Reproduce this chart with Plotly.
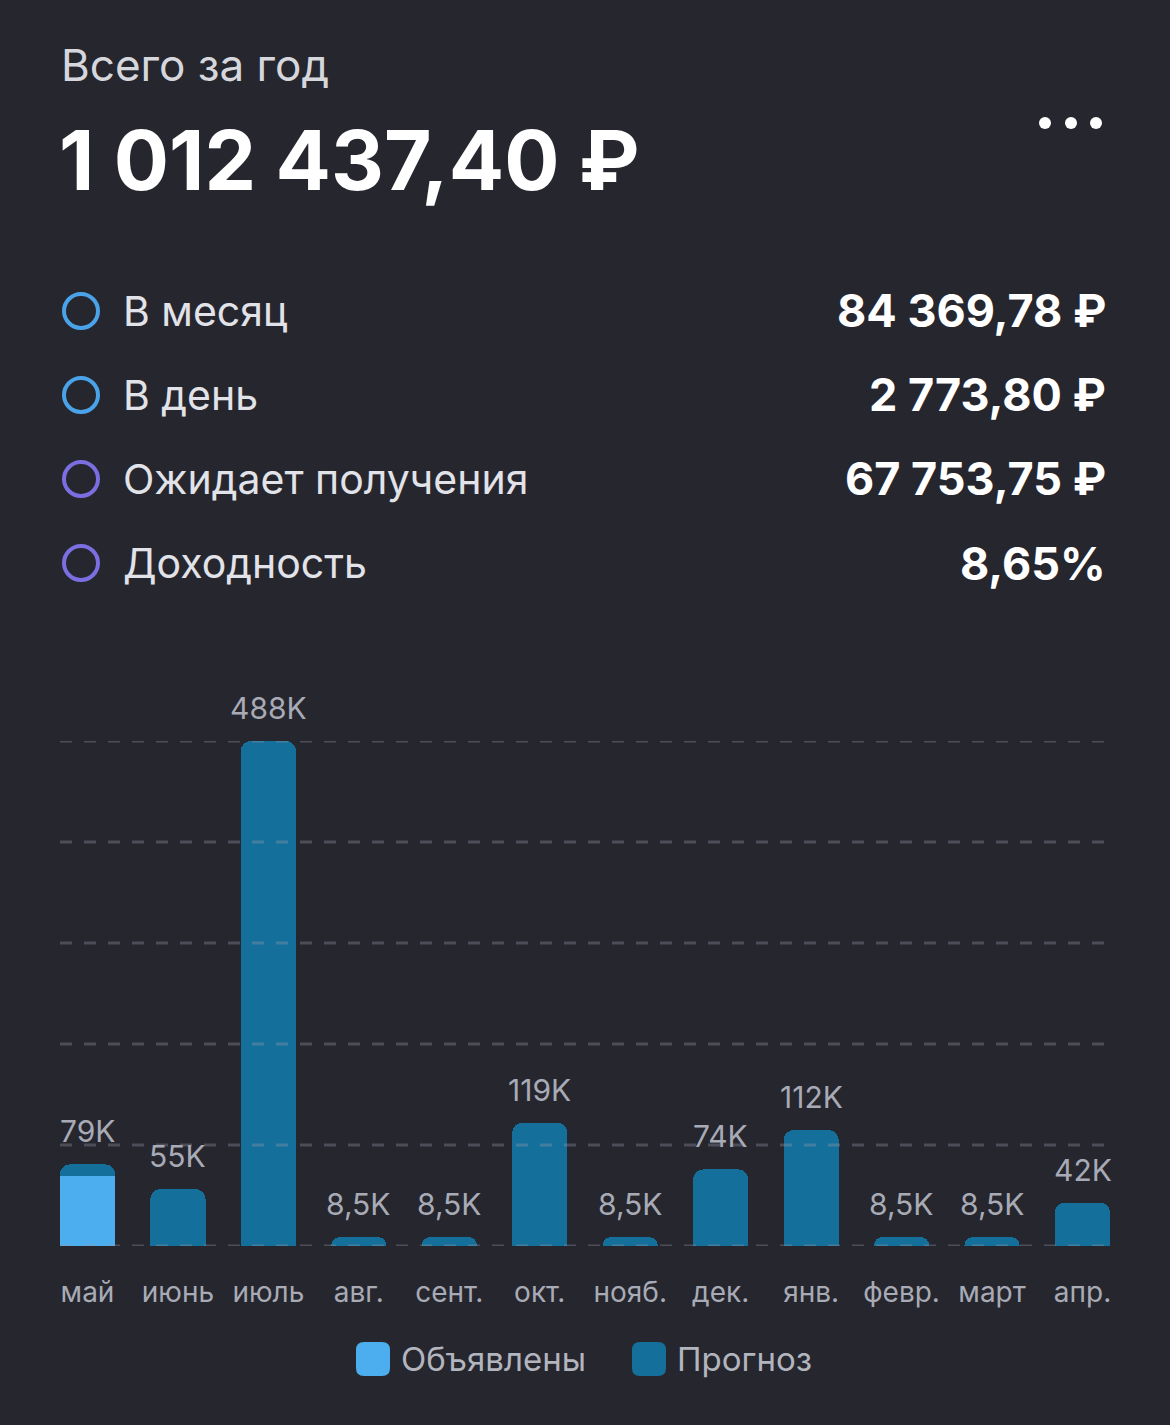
import plotly.graph_objects as go

# ---------------- data ----------------
months = ["май", "июнь", "июль", "авг.", "сент.", "окт.", "нояб.", "дек.", "янв.", "февр.", "март", "апр."]
declared = [67.75, 0, 0, 0, 0, 0, 0, 0, 0, 0, 0, 0]          # thousands ₽
forecast = [11.25, 55, 488, 8.5, 8.5, 119, 8.5, 74, 112, 8.5, 8.5, 42]
bar_labels = ["79K", "55K", "488K", "8,5K", "8,5K", "119K", "8,5K", "74K", "112K", "8,5K", "8,5K", "42K"]

title_text = "Всего за год"
total_text = "1 012 437,40 ₽"
stat_labels = ["В месяц", "В день", "Ожидает получения", "Доходность"]
stat_values = ["84 369,78 ₽", "2 773,80 ₽", "67 753,75 ₽", "8,65%"]
stat_colors = ["#4aa3e8", "#4aa3e8", "#7b6ee0", "#7b6ee0"]
legend_names = ["Объявлены", "Прогноз"]

# ---------------- style ----------------
W, H = 1170, 1425
BG = "#26262f"
C_DECL = "#4caeee"
C_FORE = "#14709b"
TXT_GRAY = "#a8abb5"
FONT = "Inter, Roboto, sans-serif"


def px(x):
    return x / W


def py(y):
    return 1 - y / H


totals = [d + f for d, f in zip(declared, forecast)]
ymax = max(totals)

fig = go.Figure()
fig.add_trace(go.Bar(x=months, y=declared, name=legend_names[0], marker=dict(color=C_DECL, line=dict(width=0)),
                     showlegend=False, hoverinfo="skip"))
fig.add_trace(go.Bar(x=months, y=forecast, name=legend_names[1], marker=dict(color=C_FORE, line=dict(width=0)),
                     showlegend=False, hoverinfo="skip"))

shapes = []
annotations = []

# dashed gridlines above bars
for i in range(6):
    shapes.append(dict(type="line", xref="paper", yref="y", x0=px(60), x1=px(1105), y0=ymax * i / 5, y1=ymax * i / 5,
                       line=dict(color="rgba(150,152,168,0.35)", width=3, dash="12px,12px"), layer="above"))

# bar value labels
for m, t, lab in zip(months, totals, bar_labels):
    annotations.append(dict(x=m, y=t, xref="x", yref="y", text=lab, showarrow=False, yshift=33,
                            yanchor="middle", font=dict(family=FONT, size=30, color=TXT_GRAY)))

# header
annotations.append(dict(x=px(59), y=py(65), xref="paper", yref="paper", text=title_text, showarrow=False,
                        xanchor="left", yanchor="middle", font=dict(family=FONT, size=44, color="#d6d7dc")))
annotations.append(dict(x=px(57), y=py(160), xref="paper", yref="paper", text="<b>" + total_text + "</b>",
                        showarrow=False, xanchor="left", yanchor="middle",
                        font=dict(family=FONT, size=82, color="#ffffff")))

# menu dots
for cx in [1045, 1071, 1096]:
    shapes.append(dict(type="circle", xref="paper", yref="paper", xsizemode="pixel", ysizemode="pixel",
                       xanchor=px(cx), yanchor=py(123), x0=-6, x1=6, y0=-6, y1=6,
                       fillcolor="#ffffff", line=dict(width=0)))

# stat rows
row_y = [311, 395, 479, 563]
for lab, val, col, yy in zip(stat_labels, stat_values, stat_colors, row_y):
    shapes.append(dict(type="circle", xref="paper", yref="paper", xsizemode="pixel", ysizemode="pixel",
                       xanchor=px(81), yanchor=py(yy), x0=-17, x1=17, y0=-17, y1=17,
                       line=dict(color=col, width=4), fillcolor="rgba(0,0,0,0)"))
    annotations.append(dict(x=px(121), y=py(yy), xref="paper", yref="paper", text=lab, showarrow=False,
                            xanchor="left", yanchor="middle", font=dict(family=FONT, size=41, color="#e2e3e8")))
    annotations.append(dict(x=px(1108), y=py(yy), xref="paper", yref="paper", text="<b>" + val + "</b>",
                            showarrow=False, xanchor="right", yanchor="middle",
                            font=dict(family=FONT, size=45, color="#ffffff")))


# manual legend
def rounded_square(size, r):
    s = size / 2
    return (f"M{-s + r},{-s} L{s - r},{-s} Q{s},{-s} {s},{-s + r} L{s},{s - r} Q{s},{s} {s - r},{s} "
            f"L{-s + r},{s} Q{-s},{s} {-s},{s - r} L{-s},{-s + r} Q{-s},{-s} {-s + r},{-s} Z")


for name, col, sx, tx in zip(legend_names, [C_DECL, C_FORE], [373, 649], [399, 675]):
    shapes.append(dict(type="path", xref="paper", yref="paper", xsizemode="pixel", ysizemode="pixel",
                       xanchor=px(sx), yanchor=py(1359), path=rounded_square(34, 8),
                       fillcolor=col, line=dict(width=0)))
    annotations.append(dict(x=px(tx), y=py(1359), xref="paper", yref="paper", text=name, showarrow=False,
                            xanchor="left", yanchor="middle", font=dict(family=FONT, size=33, color="#b3b5be")))

fig.update_layout(
    width=W, height=H,
    margin=dict(l=0, r=0, t=0, b=0),
    paper_bgcolor=BG, plot_bgcolor=BG,
    barmode="stack", bargap=0.39, barcornerradius=10,
    showlegend=False,
    xaxis=dict(domain=[px(60), px(1110)], range=[-0.304, 11.304], showgrid=False, zeroline=False,
               showline=False, ticks="", tickfont=dict(family=FONT, size=28, color=TXT_GRAY),
               ticklabelstandoff=27, fixedrange=True),
    yaxis=dict(domain=[py(1246), py(741)], range=[0, ymax], showgrid=False, zeroline=False,
               showticklabels=False, fixedrange=True),
    shapes=shapes,
    annotations=annotations,
)

fig.write_html("out.html", config={"displayModeBar": False},
               post_script="document.body.style.margin='0';document.body.style.background='" + BG + "';")
